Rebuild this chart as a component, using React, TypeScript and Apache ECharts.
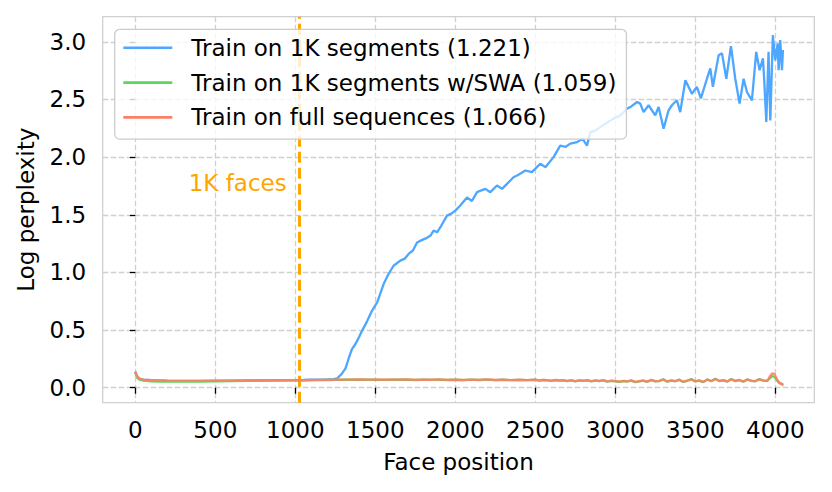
import React, { useEffect, useRef } from 'react';
import * as echarts from 'echarts';

// ---- data ----
const xTicks = [0, 500, 1000, 1500, 2000, 2500, 3000, 3500, 4000];
const yTicks = [0, 0.5, 1.0, 1.5, 2.0, 2.5, 3.0];
const xRange = [-204, 4244];
const yRange = [-0.13, 3.218];

const seriesNames = [
  'Train on 1K segments (1.221)',
  'Train on 1K segments w/SWA (1.059)',
  'Train on full sequences (1.066)',
];

const boundaryX = 1024;
const boundaryLabel = '1K faces';
const boundaryLabelPos = [946, 1.775];

const lowX = [
  0, 10, 25, 50, 100, 150, 200, 300, 400, 500, 600, 700, 800, 900, 1000,
  1050, 1100, 1150, 1200, 1250, 1300, 1350, 1400, 1450, 1500, 1550, 1600, 1650, 1700, 1750,
  1800, 1850, 1900, 1950, 2000, 2050, 2100, 2150, 2200, 2250, 2300, 2350, 2400, 2450, 2500,
  2525, 2550, 2575, 2600, 2625, 2650, 2675, 2700, 2725, 2750, 2775, 2800, 2825, 2850, 2875,
  2900, 2925, 2950, 2975, 3000, 3025, 3050, 3075, 3100, 3125, 3150, 3175, 3200, 3225, 3250,
  3275, 3300, 3325, 3350, 3375, 3400, 3425, 3450, 3475, 3500, 3525, 3550, 3575, 3600, 3625,
  3650, 3675, 3700, 3725, 3750, 3775, 3800, 3825, 3850, 3875, 3900, 3925, 3950,
  3965, 3980, 3995, 4010, 4025, 4040, 4050,
];

const fullY = [
  0.140, 0.100, 0.080, 0.071, 0.065, 0.062, 0.061, 0.060, 0.060, 0.061, 0.062, 0.063, 0.064, 0.065, 0.066,
  0.066, 0.067, 0.068, 0.068, 0.069, 0.071, 0.070, 0.072, 0.070, 0.071, 0.069, 0.071, 0.070, 0.072, 0.068,
  0.071, 0.069, 0.072, 0.068, 0.070, 0.067, 0.071, 0.068, 0.072, 0.067, 0.070, 0.066, 0.069, 0.066, 0.070,
  0.064, 0.068, 0.066, 0.062, 0.067, 0.063, 0.066, 0.060, 0.065, 0.058, 0.064, 0.061, 0.066, 0.057, 0.063,
  0.059, 0.065, 0.055, 0.061, 0.058, 0.052, 0.060, 0.056, 0.063, 0.050, 0.058, 0.062, 0.053, 0.066, 0.057,
  0.060, 0.070, 0.054, 0.063, 0.058, 0.068, 0.052, 0.062, 0.071, 0.056, 0.064, 0.050, 0.069, 0.058, 0.074,
  0.060, 0.066, 0.055, 0.072, 0.059, 0.068, 0.054, 0.070, 0.061, 0.058, 0.072, 0.063, 0.060,
  0.095, 0.125, 0.120, 0.075, 0.045, 0.030, 0.018,
];

const swaY = [
  0.130, 0.090, 0.070, 0.062, 0.056, 0.054, 0.053, 0.053, 0.054, 0.055, 0.057, 0.059, 0.061, 0.062, 0.063,
  0.064, 0.066, 0.066, 0.067, 0.068, 0.070, 0.069, 0.071, 0.069, 0.070, 0.068, 0.070, 0.069, 0.071, 0.067,
  0.070, 0.068, 0.071, 0.067, 0.069, 0.066, 0.070, 0.067, 0.071, 0.066, 0.069, 0.065, 0.068, 0.065, 0.069,
  0.062, 0.067, 0.064, 0.060, 0.066, 0.061, 0.064, 0.058, 0.063, 0.056, 0.063, 0.059, 0.064, 0.055, 0.061,
  0.057, 0.063, 0.053, 0.060, 0.056, 0.050, 0.058, 0.054, 0.061, 0.048, 0.056, 0.061, 0.051, 0.068, 0.055,
  0.058, 0.073, 0.052, 0.061, 0.056, 0.070, 0.050, 0.060, 0.075, 0.054, 0.062, 0.048, 0.072, 0.056, 0.078,
  0.058, 0.064, 0.053, 0.075, 0.057, 0.066, 0.052, 0.072, 0.059, 0.056, 0.075, 0.061, 0.058,
  0.080, 0.100, 0.095, 0.065, 0.040, 0.035, 0.028,
];

const segX = [
  0, 10, 25, 50, 100, 200, 400, 600, 800, 1000,
  1050, 1100, 1150, 1200, 1240, 1261, 1290, 1313, 1335, 1354, 1375, 1395, 1417, 1450, 1479,
  1511, 1552, 1580, 1614, 1656, 1685, 1708, 1735, 1761, 1790, 1823, 1845, 1864, 1886, 1906,
  1948, 1975, 2000, 2031, 2073, 2104, 2136, 2160, 2188, 2219, 2261, 2292, 2344, 2364, 2386,
  2410, 2438, 2479, 2531, 2563, 2614, 2656, 2690, 2719, 2761, 2795, 2823, 2844, 2875, 2906,
  2950, 2989, 3030, 3073, 3100, 3136, 3156, 3177, 3208, 3250, 3271, 3302, 3333, 3354, 3385,
  3406, 3438, 3479, 3510, 3535, 3573, 3594, 3610, 3646, 3667, 3694, 3723, 3750, 3777, 3802,
  3823, 3854, 3881, 3902, 3923, 3931, 3944, 3958, 3969, 3985, 4000, 4015, 4021, 4031, 4042, 4048,
];

const segY = [
  0.140, 0.100, 0.080, 0.071, 0.065, 0.061, 0.060, 0.062, 0.064, 0.066,
  0.067, 0.069, 0.071, 0.073, 0.075, 0.080, 0.120, 0.165, 0.260, 0.334, 0.377, 0.430, 0.493, 0.580, 0.667,
  0.739, 0.899, 0.980, 1.058, 1.102, 1.120, 1.160, 1.190, 1.260, 1.280, 1.300, 1.320, 1.363, 1.348, 1.390,
  1.493, 1.510, 1.536, 1.580, 1.650, 1.620, 1.696, 1.710, 1.725, 1.696, 1.754, 1.725, 1.797, 1.826, 1.840,
  1.860, 1.884, 1.870, 1.943, 1.913, 2.000, 2.100, 2.090, 2.117, 2.130, 2.160, 2.100, 2.217, 2.230, 2.260,
  2.300, 2.334, 2.360, 2.420, 2.440, 2.478, 2.464, 2.390, 2.450, 2.363, 2.435, 2.247, 2.406, 2.450, 2.493,
  2.390, 2.667, 2.550, 2.610, 2.510, 2.680, 2.770, 2.610, 2.884, 2.900, 2.680, 2.963, 2.680, 2.464, 2.680,
  2.565, 2.493, 2.913, 2.754, 2.856, 2.667, 2.304, 2.913, 2.319, 3.058, 2.840, 2.986, 2.754, 3.015, 2.754, 2.930,
];

const zip = (xs: number[], ys: number[]) => xs.map((x, i) => [x, ys[i]]);

const FONT = 'DejaVu Sans';
const GRIDC = '#d0d0d0';
const BLUE = '#4da6ff';
const GREEN = '#5cd65c';
const RED = '#ff7f66';
const ORANGE = '#ffa500';

export default function App() {
  const ref = useRef<HTMLDivElement>(null);
  useEffect(() => {
    const chart = echarts.init(ref.current!, null, { renderer: 'svg' });
    const option: any = {
      animation: false,
      backgroundColor: '#ffffff',
      textStyle: { fontFamily: FONT },
      grid: {
        left: 102.7,
        top: 16.7,
        width: 711.6,
        height: 386,
        show: true,
        borderColor: GRIDC,
        borderWidth: 1.3,
        containLabel: false,
      },
      xAxis: {
        type: 'value',
        min: xRange[0],
        max: xRange[1],
        splitNumber: 9,
        axisLine: { show: false },
        axisTick: { show: true, length: 6, lineStyle: { color: '#000', width: 1.3 }, customValues: xTicks },
        axisLabel: {
          customValues: xTicks,
          margin: 15.5,
          fontSize: 23,
          color: '#000',
          fontFamily: FONT,
          formatter: (v: number) => String(v),
        },
        splitLine: { show: true, lineStyle: { color: GRIDC, width: 1.3, type: [5.5, 2.5] } },
        name: 'Face position',
        nameLocation: 'middle',
        nameGap: 48,
        nameTextStyle: { fontSize: 23, color: '#000', fontFamily: FONT },
      },
      yAxis: {
        type: 'value',
        min: yRange[0],
        max: yRange[1],
        splitNumber: 7,
        axisLine: { show: false },
        axisTick: { show: true, length: 5.5, lineStyle: { color: '#000', width: 1.3 }, customValues: yTicks },
        axisLabel: {
          customValues: yTicks,
          margin: 16.5,
          fontSize: 23,
          color: '#000',
          fontFamily: FONT,
          formatter: (v: number) => v.toFixed(1),
        },
        splitLine: { show: true, lineStyle: { color: GRIDC, width: 1.3, type: [5.5, 2.5] } },
        name: 'Log perplexity',
        nameLocation: 'middle',
        nameGap: 65,
        nameTextStyle: { fontSize: 23, color: '#000', fontFamily: FONT },
      },
      legend: {
        data: seriesNames,
        orient: 'vertical',
        left: 114.7,
        top: 29.3,
        zlevel: 5,
        z: 100,
        icon: 'rect',
        itemWidth: 49,
        itemHeight: 2.6,
        itemGap: 8.8,
        padding: [5.5, 10, 8.7, 8.6],
        backgroundColor: 'rgba(255,255,255,0.8)',
        borderColor: '#cccccc',
        borderWidth: 1.3,
        borderRadius: 5,
        textStyle: { fontSize: 23, lineHeight: 26, color: '#000', fontFamily: FONT, padding: [0, 0, 0, 14] },
      },
      series: [
        {
          name: seriesNames[0],
          type: 'line',
          data: zip(segX, segY),
          showSymbol: false,
          symbol: 'none',
          lineStyle: { width: 2.3, color: BLUE },
          itemStyle: { color: BLUE },
        },
        {
          name: seriesNames[1],
          type: 'line',
          data: zip(lowX, swaY),
          showSymbol: false,
          symbol: 'none',
          lineStyle: { width: 2.3, color: GREEN },
          itemStyle: { color: GREEN },
        },
        {
          name: seriesNames[2],
          type: 'line',
          data: zip(lowX, fullY),
          showSymbol: false,
          symbol: 'none',
          lineStyle: { width: 2.3, color: RED, opacity: 0.9 },
          itemStyle: { color: RED },
        },
        {
          name: 'boundary',
          type: 'line',
          data: [],
          markLine: {
            silent: true,
            z: 1,
            symbol: 'none',
            data: [{ xAxis: boundaryX }],
            lineStyle: { color: ORANGE, width: 3, type: [11, 5] },
            label: { show: false },
          },
          markPoint: {
            silent: true,
            z: 1,
            symbol: 'circle',
            symbolSize: 0,
            data: [{ coord: boundaryLabelPos }],
            label: {
              show: true,
              position: 'left',
              distance: 0,
              formatter: boundaryLabel,
              color: ORANGE,
              fontSize: 23,
              fontFamily: FONT,
            },
          },
        },
      ],
    };
    chart.setOption(option);
    return () => chart.dispose();
  }, []);
  return <div ref={ref} style={{ position: 'fixed', left: 0, top: 0, width: 832, height: 492 }} />;
}
